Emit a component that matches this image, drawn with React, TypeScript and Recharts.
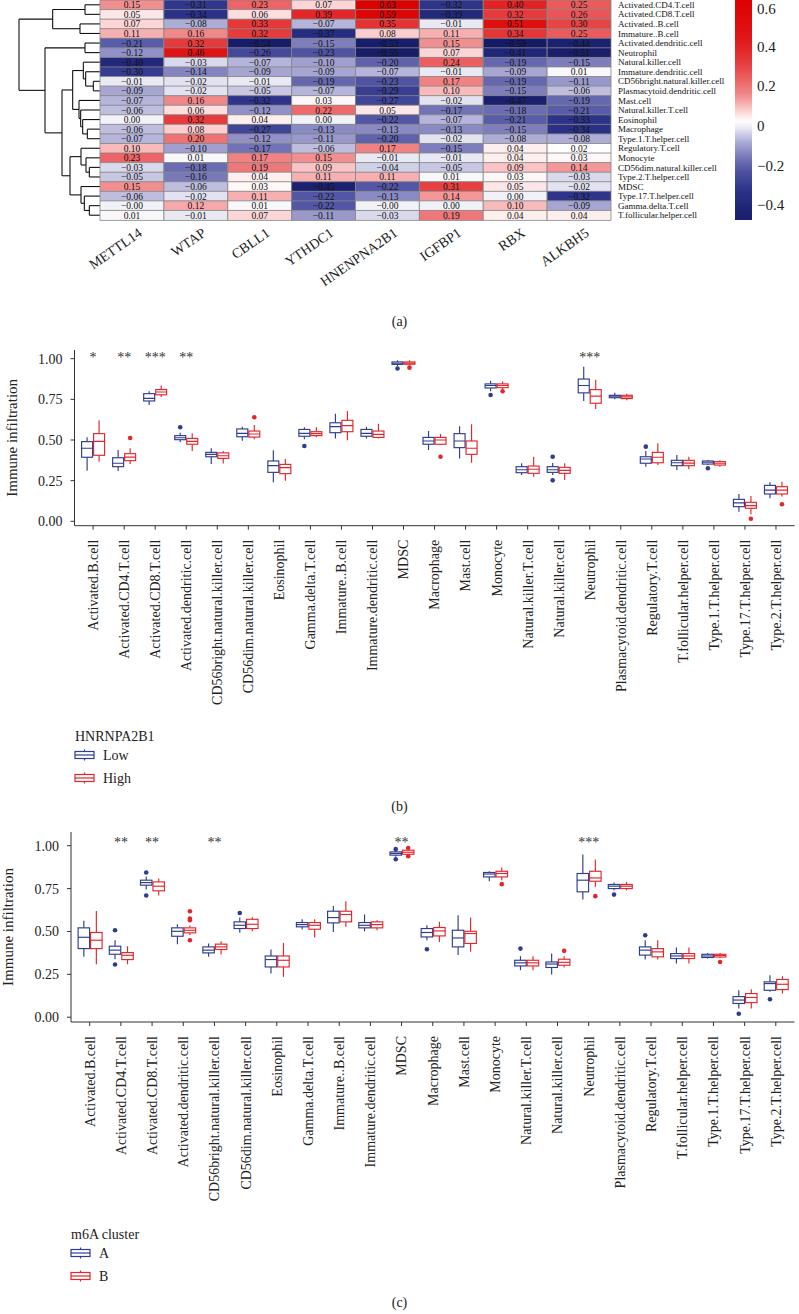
import React from 'react';
import {
  BarChart, Bar, Cell, XAxis, YAxis, LabelList, ScatterChart, Scatter,
  ReferenceLine, ReferenceArea, ComposedChart,
} from 'recharts';

const FONT = '"Liberation Serif", "DejaVu Serif", serif';
const BLUE = '#2e3d8f';
const RED = '#e3262b';

// ---------- panel (a): correlation heatmap ----------
const GENES = ['METTL14', 'WTAP', 'CBLL1', 'YTHDC1', 'HNENPNA2B1', 'IGFBP1', 'RBX', 'ALKBH5'];

const HEAT_ROWS = [
  'Activated.CD4.T.cell', 'Activated.CD8.T.cell', 'Activated..B.cell', 'Immature..B.cell',
  'Activated.dendritic.cell', 'Neutrophil', 'Natural.killer.cell', 'Immature.dendritic.cell',
  'CD56bright.natural.killer.cell', 'Plasmacytoid.dendritic.cell', 'Mast.cell', 'Natural.killer.T.cell',
  'Eosinophil', 'Macrophage', 'Type.1.T.helper.cell', 'Regulatory.T.cell', 'Monocyte',
  'CD56dim.natural.killer.cell', 'Type.2.T.helper.cell', 'MDSC', 'Type.17.T.helper.cell',
  'Gamma.delta.T.cell', 'T.follicular.helper.cell',
];

const HEAT_VALUES = [
  [0.15, -0.31, 0.23, 0.07, 0.63, -0.32, 0.40, 0.25],
  [0.05, -0.34, 0.06, 0.39, 0.59, -0.39, 0.32, 0.26],
  [0.07, -0.08, 0.33, -0.07, 0.35, -0.01, 0.51, 0.30],
  [0.11, 0.16, 0.32, -0.37, 0.08, 0.11, 0.34, 0.25],
  [-0.21, 0.32, -0.54, -0.15, -0.53, 0.15, -0.59, -0.44],
  [-0.12, 0.46, -0.26, -0.23, -0.55, 0.07, -0.41, -0.51],
  [-0.40, -0.03, -0.07, -0.10, -0.20, 0.24, -0.19, -0.15],
  [-0.30, -0.14, -0.09, -0.09, -0.07, -0.01, -0.09, 0.01],
  [-0.01, -0.02, -0.01, -0.19, -0.23, 0.17, -0.19, -0.11],
  [-0.09, -0.02, -0.05, -0.07, -0.29, 0.10, -0.15, -0.06],
  [-0.07, 0.16, -0.32, 0.03, -0.27, -0.02, -0.47, -0.19],
  [-0.06, 0.06, -0.12, 0.22, 0.05, -0.17, -0.18, -0.21],
  [0.00, 0.32, 0.04, 0.00, -0.22, -0.07, -0.21, -0.33],
  [-0.06, 0.08, -0.27, -0.13, -0.13, -0.13, -0.15, -0.34],
  [-0.07, 0.20, -0.12, -0.11, -0.20, -0.02, -0.08, -0.08],
  [0.10, -0.10, -0.17, -0.06, 0.17, -0.15, 0.04, 0.02],
  [0.23, 0.01, 0.17, 0.15, -0.01, -0.01, 0.04, 0.03],
  [-0.03, -0.18, 0.19, 0.09, -0.04, -0.05, 0.09, 0.14],
  [-0.05, -0.16, 0.04, 0.11, 0.11, 0.01, 0.03, -0.03],
  [0.15, -0.06, 0.03, -0.45, -0.22, 0.31, 0.05, -0.02],
  [-0.06, -0.02, 0.11, -0.22, -0.13, 0.14, 0.00, -0.32],
  [-0, 0.12, 0.01, -0.22, -0, 0.00, 0.10, -0.09],
  [0.01, -0.01, 0.07, -0.11, -0.03, 0.19, 0.04, 0.04],
];

// hclust-style merges: negative = leaf (1-based row), positive = earlier merge; third = height
const DENDRO_MERGES = [
  [-1, -2, 45], [-3, -4, 60], [1, 2, 142], [-5, -6, 45], [-9, -10, 20], [-8, 5, 43],
  [-7, 6, 50], [-14, -15, 38], [-13, 8, 52], [-12, 9, 58], [-11, 10, 63], [7, 11, 82],
  [-18, -19, 32], [-17, 13, 42], [-16, 14, 57], [-22, -23, 32], [-21, 16, 47], [-20, 17, 57],
  [15, 18, 90], [12, 19, 114], [4, 20, 165], [3, 21, 243],
];
const DENDRO_TOP = 243;

const CBAR_TICKS = [-0.4, -0.2, 0, 0.2, 0.4, 0.6];
const CBAR_MIN = -0.476;
const CBAR_MAX = 0.635;

// ---------- panels (b) and (c): box plots ----------
const CELL_TYPES = [
  'Activated.B.cell', 'Activated.CD4.T.cell', 'Activated.CD8.T.cell', 'Activated.dendritic.cell',
  'CD56bright.natural.killer.cell', 'CD56dim.natural.killer.cell', 'Eosinophil', 'Gamma.delta.T.cell',
  'Immature..B.cell', 'Immature.dendritic.cell', 'MDSC', 'Macrophage', 'Mast.cell', 'Monocyte',
  'Natural.killer.T.cell', 'Natural.killer.cell', 'Neutrophil', 'Plasmacytoid.dendritic.cell',
  'Regulatory.T.cell', 'T.follicular.helper.cell', 'Type.1.T.helper.cell', 'Type.17.T.helper.cell',
  'Type.2.T.helper.cell',
];

// [min, q1, median, q3, max]
const B_LOW = [
  [0.311, 0.394, 0.449, 0.49, 0.517], [0.309, 0.336, 0.357, 0.391, 0.438], [0.715, 0.74, 0.756, 0.785, 0.80],
  [0.486, 0.502, 0.514, 0.527, 0.545], [0.352, 0.397, 0.412, 0.424, 0.449], [0.496, 0.52, 0.541, 0.568, 0.582],
  [0.240, 0.301, 0.342, 0.371, 0.437], [0.504, 0.523, 0.541, 0.565, 0.578], [0.51, 0.545, 0.582, 0.606, 0.662],
  [0.51, 0.523, 0.541, 0.565, 0.582], [0.955, 0.965, 0.972, 0.98, 0.99], [0.438, 0.474, 0.494, 0.516, 0.555],
  [0.387, 0.453, 0.494, 0.539, 0.584], [0.80, 0.82, 0.835, 0.845, 0.865], [0.285, 0.299, 0.317, 0.336, 0.357],
  [0.285, 0.301, 0.317, 0.336, 0.358], [0.74, 0.79, 0.835, 0.875, 0.95], [0.75, 0.76, 0.77, 0.775, 0.79],
  [0.336, 0.357, 0.383, 0.397, 0.432], [0.316, 0.342, 0.36, 0.375, 0.408], [0.346, 0.352, 0.363, 0.371, 0.377],
  [0.059, 0.09, 0.113, 0.135, 0.168], [0.142, 0.168, 0.192, 0.221, 0.24],
];
const B_LOW_OUT = [
  [], [], [], [0.578], [], [], [], [0.463], [], [], [0.94], [], [], [0.777], [], [0.397, 0.252],
  [], [], [0.459], [], [0.326], [], [],
];
const B_HIGH = [
  [0.367, 0.406, 0.492, 0.539, 0.621], [0.352, 0.373, 0.395, 0.416, 0.449], [0.765, 0.778, 0.795, 0.81, 0.835],
  [0.432, 0.474, 0.492, 0.51, 0.541], [0.356, 0.387, 0.403, 0.421, 0.432], [0.504, 0.518, 0.537, 0.555, 0.592],
  [0.25, 0.293, 0.33, 0.35, 0.383], [0.517, 0.527, 0.539, 0.551, 0.578], [0.498, 0.551, 0.588, 0.621, 0.678],
  [0.51, 0.516, 0.535, 0.555, 0.60], [0.958, 0.966, 0.973, 0.98, 0.99], [0.469, 0.474, 0.5, 0.516, 0.537],
  [0.36, 0.412, 0.449, 0.494, 0.597], [0.81, 0.822, 0.835, 0.845, 0.86], [0.274, 0.295, 0.32, 0.34, 0.397],
  [0.254, 0.295, 0.313, 0.332, 0.357], [0.69, 0.726, 0.77, 0.81, 0.87], [0.745, 0.755, 0.765, 0.775, 0.785],
  [0.346, 0.36, 0.394, 0.424, 0.48], [0.32, 0.342, 0.358, 0.375, 0.397], [0.336, 0.346, 0.357, 0.367, 0.375],
  [0.043, 0.08, 0.096, 0.117, 0.156], [0.152, 0.168, 0.192, 0.213, 0.244],
];
const B_HIGH_OUT = [
  [], [0.512], [], [], [], [0.64], [], [], [], [], [0.945], [0.397], [], [0.80], [], [],
  [], [], [], [], [], [0.016], [0.105],
];
const B_SIG = ['*', '**', '***', '**', '', '', '', '', '', '', '', '', '', '', '', '', '***', '', '', '', '', '', ''];

const C_A = [
  [0.352, 0.40, 0.466, 0.521, 0.562], [0.338, 0.367, 0.391, 0.414, 0.449], [0.745, 0.77, 0.785, 0.799, 0.82],
  [0.426, 0.472, 0.501, 0.521, 0.542], [0.352, 0.375, 0.391, 0.41, 0.43], [0.492, 0.517, 0.536, 0.556, 0.581],
  [0.255, 0.293, 0.336, 0.357, 0.395], [0.511, 0.527, 0.54, 0.552, 0.571], [0.497, 0.55, 0.581, 0.618, 0.649],
  [0.501, 0.521, 0.536, 0.552, 0.599], [0.935, 0.945, 0.955, 0.964, 0.972], [0.449, 0.468, 0.494, 0.517, 0.536],
  [0.362, 0.41, 0.462, 0.507, 0.595], [0.793, 0.818, 0.835, 0.844, 0.851], [0.274, 0.299, 0.317, 0.332, 0.356],
  [0.249, 0.29, 0.31, 0.322, 0.371], [0.686, 0.731, 0.799, 0.838, 0.949], [0.74, 0.75, 0.764, 0.774, 0.785],
  [0.336, 0.362, 0.391, 0.41, 0.449], [0.313, 0.342, 0.357, 0.371, 0.406], [0.342, 0.348, 0.357, 0.367, 0.375],
  [0.05, 0.08, 0.10, 0.12, 0.157], [0.148, 0.157, 0.196, 0.206, 0.245],
];
const C_A_OUT = [
  [], [0.507, 0.307], [0.844, 0.71], [], [], [0.608], [], [], [], [], [0.98, 0.921], [0.396], [], [],
  [0.40], [], [], [0.715], [0.478], [], [], [0.02], [0.105],
];
const C_B = [
  [0.309, 0.40, 0.449, 0.494, 0.62], [0.309, 0.336, 0.361, 0.377, 0.414], [0.71, 0.737, 0.764, 0.789, 0.809],
  [0.48, 0.492, 0.507, 0.521, 0.535], [0.366, 0.395, 0.41, 0.426, 0.443], [0.501, 0.517, 0.542, 0.571, 0.583],
  [0.235, 0.293, 0.332, 0.357, 0.433], [0.465, 0.513, 0.536, 0.552, 0.571], [0.527, 0.556, 0.599, 0.618, 0.676],
  [0.507, 0.521, 0.54, 0.556, 0.566], [0.945, 0.95, 0.962, 0.974, 0.98], [0.439, 0.474, 0.503, 0.523, 0.556],
  [0.381, 0.43, 0.488, 0.501, 0.581], [0.799, 0.818, 0.838, 0.851, 0.873], [0.274, 0.299, 0.317, 0.332, 0.356],
  [0.29, 0.303, 0.32, 0.338, 0.356], [0.76, 0.793, 0.812, 0.851, 0.92], [0.74, 0.75, 0.764, 0.774, 0.789],
  [0.336, 0.352, 0.381, 0.40, 0.449], [0.313, 0.342, 0.357, 0.371, 0.406], [0.345, 0.351, 0.36, 0.367, 0.375],
  [0.05, 0.085, 0.115, 0.138, 0.163], [0.138, 0.161, 0.192, 0.22, 0.239],
];
const C_B_OUT = [
  [], [], [], [0.618, 0.575, 0.566, 0.449], [], [], [], [], [], [], [0.987, 0.939], [], [], [0.776],
  [], [0.387], [0.706], [], [], [], [0.322], [], [],
];
const C_SIG = ['', '**', '**', '', '**', '', '', '', '', '', '**', '', '', '', '', '', '***', '', '', '', '', '', ''];

const Y_TICKS = [0, 0.25, 0.5, 0.75, 1];

// ---------- helpers ----------
const HEAT_STOPS: [number, string][] = [
  [-0.6, '#151b63'], [-0.45, '#1b2170'], [-0.32, '#2d348a'], [-0.22, '#5356a4'], [-0.13, '#8a8ac4'],
  [-0.07, '#b5b4da'], [-0.02, '#e2e2f0'], [0.02, '#ffffff'], [0.07, '#fcd6d7'], [0.11, '#f7b0b2'],
  [0.16, '#f08788'], [0.23, '#ec6465'], [0.32, '#e63b3c'], [0.45, '#e01415'], [0.65, '#dc0000'],
];

const hexToRgb = (h: string) => [1, 3, 5].map((k) => parseInt(h.slice(k, k + 2), 16));
const mixHex = (a: string, b: string, t: number) => {
  const A = hexToRgb(a);
  const B = hexToRgb(b);
  return '#' + A.map((v, k) => Math.round(v + (B[k] - v) * t).toString(16).padStart(2, '0')).join('');
};
const heatColor = (v: number) => {
  const s = HEAT_STOPS;
  if (v <= s[0][0]) return s[0][1];
  for (let k = 1; k < s.length; k++) {
    if (v <= s[k][0]) return mixHex(s[k - 1][1], s[k][1], (v - s[k - 1][0]) / (s[k][0] - s[k - 1][0]));
  }
  return s[s.length - 1][1];
};
const fmtCorr = (v: number) => (v < 0 || Object.is(v, -0) ? '\u2212' : '') + Math.abs(v).toFixed(2);

function dendroSegments() {
  const pos: number[] = [];
  const hts: number[] = [];
  const segs: { x: number; y: number }[][] = [];
  const node = (id: number) => (id < 0 ? { y: -id - 1, h: 0 } : { y: pos[id - 1], h: hts[id - 1] });
  DENDRO_MERGES.forEach(([a, b, h]) => {
    const A = node(a);
    const B = node(b);
    segs.push([{ x: A.h, y: A.y }, { x: h, y: A.y }]);
    segs.push([{ x: B.h, y: B.y }, { x: h, y: B.y }]);
    segs.push([{ x: h, y: A.y }, { x: h, y: B.y }]);
    pos.push((A.y + B.y) / 2);
    hts.push(h);
  });
  return segs;
}

const heatData = HEAT_ROWS.map((name, i) => ({ name, vals: HEAT_VALUES[i] }));
const leafData = HEAT_ROWS.map((_, i) => ({ h: 0, row: i }));

function GeneTick(props: any) {
  const { x, y, payload } = props;
  const idx = Math.floor(payload.value);
  return (
    <text transform={`translate(${x + 11},${y + 15}) rotate(-35)`} textAnchor="end"
      fontSize={14} fontFamily={FONT} fill="#222">{GENES[idx]}</text>
  );
}

function RowTick(props: any) {
  const { x, y, payload } = props;
  return (
    <text x={x + 7} y={y} dy="0.35em" textAnchor="start" fontSize={9} fontFamily={FONT} fill="#111">
      {payload.value}
    </text>
  );
}

function Heatmap() {
  const segs = dendroSegments();
  const cbarStops = Array.from({ length: 41 }, (_, k) => {
    const off = k / 40;
    return { off, c: heatColor(CBAR_MAX - off * (CBAR_MAX - CBAR_MIN)) };
  });
  return (
    <>
      <div style={{ position: 'absolute', left: 0, top: 0 }}>
        <ScatterChart width={100} height={300} margin={{ top: 0, right: 0, bottom: 80, left: 19 }}>
          <XAxis type="number" dataKey="h" domain={[0, DENDRO_TOP]} reversed hide />
          <YAxis type="number" dataKey="row" domain={[-0.5, HEAT_ROWS.length - 0.5]} reversed hide />
          <Scatter data={leafData} shape={() => <g />} isAnimationActive={false} />
          {segs.map((s, k) => (
            <ReferenceLine key={k} segment={s} stroke="#111" strokeWidth={1.1} ifOverflow="visible" />
          ))}
        </ScatterChart>
      </div>
      <div style={{ position: 'absolute', left: 0, top: 0 }}>
        <BarChart width={799} height={300} data={heatData} layout="vertical" barCategoryGap={0}
          margin={{ top: 0, right: 0, bottom: 0, left: 100 }}>
          <XAxis type="number" domain={[0, GENES.length]} ticks={GENES.map((_, j) => j + 0.5)} interval={0}
            height={80} axisLine={false} tickLine={false} tickSize={0} tickMargin={0} tick={<GeneTick />} />
          <YAxis type="category" dataKey="name" orientation="right" width={188} interval={0}
            axisLine={false} tickLine={false} tickSize={0} tickMargin={0} tick={<RowTick />} />
          {GENES.map((g, j) => (
            <Bar key={g} dataKey={() => 1} stackId="heat" isAnimationActive={false}>
              {heatData.map((d, i) => (
                <Cell key={i} fill={heatColor(d.vals[j])} stroke="#858585" strokeWidth={0.8} />
              ))}
              <LabelList dataKey={(d: any) => fmtCorr(d.vals[j])}
                content={(p: any) => (
                  <text x={p.x + p.width / 2} y={p.y + p.height / 2} dy="0.35em" textAnchor="middle"
                    fontSize={9.5} fontFamily={FONT} fill="#111">{p.value}</text>
                )} />
            </Bar>
          ))}
        </BarChart>
      </div>
      <div style={{ position: 'absolute', left: 735, top: 0 }}>
        <ComposedChart width={64} height={300} data={[{ x: 0 }, { x: 1 }]}
          margin={{ top: 0, right: 0, bottom: 80, left: 0 }}>
          <defs>
            <linearGradient id="cbar" x1="0" y1="0" x2="0" y2="1">
              {cbarStops.map((s) => <stop key={s.off} offset={s.off} stopColor={s.c} />)}
            </linearGradient>
          </defs>
          <XAxis dataKey="x" type="number" domain={[0, 1]} hide />
          <YAxis type="number" orientation="right" domain={[CBAR_MIN, CBAR_MAX]} ticks={CBAR_TICKS}
            allowDataOverflow width={47} axisLine={false} tickLine={false} tickSize={0} tickMargin={5}
            tick={{ fontSize: 15, fill: '#222', fontFamily: FONT }}
            tickFormatter={(v: number) => (v === 0 ? '0' : (v < 0 ? '\u2212' : '') + Math.abs(v).toFixed(1))} />
          <ReferenceArea x1={0} x2={1} y1={CBAR_MIN} y2={CBAR_MAX} fill="url(#cbar)" fillOpacity={1}
            stroke="none" ifOverflow="visible" />
        </ComposedChart>
      </div>
    </>
  );
}

// ---------- box plot ----------
const extent = (s: number[], out: number[]) => [Math.min(s[0], ...out), Math.max(s[4], ...out)];

function BoxGlyph(props: any) {
  const { x, y, width, height, stats, out, color } = props;
  if (!stats || !Number.isFinite(y)) return <g />;
  const [lo, hi] = extent(stats, out);
  const py = (v: number) => (hi === lo ? y : y + ((hi - v) / (hi - lo)) * height);
  const cx = x + width / 2;
  const sw = 1.15;
  return (
    <g>
      <line x1={cx} x2={cx} y1={py(stats[4])} y2={py(stats[3])} stroke={color} strokeWidth={sw} />
      <line x1={cx} x2={cx} y1={py(stats[1])} y2={py(stats[0])} stroke={color} strokeWidth={sw} />
      <rect x={x} y={py(stats[3])} width={width} height={Math.max(0.5, py(stats[1]) - py(stats[3]))}
        fill="#fff" stroke={color} strokeWidth={sw} />
      <line x1={x} x2={x + width} y1={py(stats[2])} y2={py(stats[2])} stroke={color} strokeWidth={sw} />
      {out.map((o: number, k: number) => (
        <circle key={k} cx={cx} cy={py(o)} r={2.3} fill={color} />
      ))}
    </g>
  );
}

function CellTick(props: any) {
  const { x, y, payload } = props;
  return (
    <text transform={`translate(${x},${y + 8}) rotate(-90)`} dy="0.35em" textAnchor="end"
      fontSize={14} fontFamily={FONT} fill="#222">{payload.value}</text>
  );
}

function SigMark(props: any) {
  const { cx, cy, payload } = props;
  if (!payload || !payload.sig || !Number.isFinite(cy)) return <g />;
  return (
    <text x={cx} y={cy + 7} textAnchor="middle" fontSize={14} fontFamily={FONT}
      style={{ fill: '#333' }} stroke="none">{payload.sig}</text>
  );
}

interface BoxPanelProps {
  top: number;
  marginLeft: number;
  marginRight: number;
  axisHeight: number;
  domain: [number, number];
  sigY: number;
  barSize: number;
  titleX: number;
  low: number[][];
  lowOut: number[][];
  high: number[][];
  highOut: number[][];
  sig: string[];
}

function BoxPanel(p: BoxPanelProps) {
  const data = CELL_TYPES.map((name, i) => ({
    name, low: p.low[i], lowOut: p.lowOut[i], high: p.high[i], highOut: p.highOut[i], sig: p.sig[i],
  }));
  return (
    <div style={{ position: 'absolute', left: 0, top: p.top }}>
      <ComposedChart width={799} height={400} data={data} barGap={1}
        margin={{ top: 20, right: p.marginRight, bottom: 0, left: p.marginLeft }}>
        <XAxis dataKey="name" type="category" interval={0} height={p.axisHeight} padding={{ left: 3.1, right: 3.1 }}
          stroke="#333" tickSize={4} tickMargin={2} tick={<CellTick />} />
        <YAxis type="number" domain={p.domain} ticks={Y_TICKS} allowDataOverflow width={60}
          stroke="#333" tickSize={4} tickMargin={8}
          tick={{ fontSize: 14, fill: '#222', fontFamily: FONT }}
          tickFormatter={(v: number) => v.toFixed(2)}
          label={{
            content: (lp: any) => {
              const vb = lp.viewBox || {};
              const cy = (vb.y || 0) + (vb.height || 0) / 2;
              return (
                <text transform={`translate(${p.titleX},${cy}) rotate(-90)`} dy="0.35em" textAnchor="middle"
                  fontSize={15} fontFamily={FONT} fill="#222">Immune infiltration</text>
              );
            },
          }} />
        <Bar dataKey={(d: any) => extent(d.low, d.lowOut)} barSize={p.barSize} isAnimationActive={false}
          shape={(bp: any) => <BoxGlyph {...bp} stats={bp.payload.low} out={bp.payload.lowOut} color={BLUE} />} />
        <Bar dataKey={(d: any) => extent(d.high, d.highOut)} barSize={p.barSize} isAnimationActive={false}
          shape={(bp: any) => <BoxGlyph {...bp} stats={bp.payload.high} out={bp.payload.highOut} color={RED} />} />
        <Scatter dataKey={(d: any) => (d.sig ? p.sigY : null)} fill="#333" isAnimationActive={false}
          shape={(sp: any) => <SigMark {...sp} />} />
      </ComposedChart>
    </div>
  );
}

function LegendKey({ x, y, color }: { x: number; y: number; color: string }) {
  return (
    <g stroke={color} strokeWidth={1.2} fill="none">
      <rect x={x} y={y - 3.5} width={19} height={7} fill="#fff" />
      <line x1={x} x2={x + 19} y1={y} y2={y} />
      <line x1={x + 9.5} x2={x + 9.5} y1={y - 5.5} y2={y - 3.5} />
      <line x1={x + 9.5} x2={x + 9.5} y1={y + 3.5} y2={y + 5.5} />
    </g>
  );
}

function BoxLegend({ x, y, title, labels }: { x: number; y: number; title: string; labels: string[] }) {
  return (
    <svg style={{ position: 'absolute', left: 0, top: 0, overflow: 'visible' }} width={1} height={1}>
      <text x={x} y={y} dy="0.35em" fontSize={14} fontFamily={FONT} fill="#222">{title}</text>
      <LegendKey x={x} y={y + 19} color={BLUE} />
      <text x={x + 28} y={y + 19} dy="0.35em" fontSize={14} fontFamily={FONT} fill="#222">{labels[0]}</text>
      <LegendKey x={x} y={y + 42} color={RED} />
      <text x={x + 28} y={y + 42} dy="0.35em" fontSize={14} fontFamily={FONT} fill="#222">{labels[1]}</text>
    </svg>
  );
}

function PanelTag({ y, text }: { y: number; text: string }) {
  return (
    <div style={{
      position: 'absolute', left: 0, width: 799, top: y - 9, textAlign: 'center',
      fontFamily: FONT, fontSize: 14, color: '#222', lineHeight: '18px',
    }}>{text}</div>
  );
}

export default function App() {
  return (
    <div style={{ position: 'relative', width: 799, height: 1314, background: '#fff', overflow: 'hidden' }}>
      <style>{'body{margin:0;}'}</style>
      <Heatmap />
      <PanelTag y={322} text="(a)" />
      <BoxPanel top={330} marginLeft={14.5} marginRight={4.4} axisHeight={204.3} domain={[-0.027, 1.0535]}
        sigY={1.023} barSize={11} titleX={12} low={B_LOW} lowOut={B_LOW_OUT} high={B_HIGH}
        highOut={B_HIGH_OUT} sig={B_SIG} />
      <BoxLegend x={75} y={736} title="HNRNPA2B1" labels={['Low', 'High']} />
      <PanelTag y={807} text="(b)" />
      <BoxPanel top={812} marginLeft={11} marginRight={4.5} axisHeight={190} domain={[-0.028, 1.08]}
        sigY={1.033} barSize={11.5} titleX={8} low={C_A} lowOut={C_A_OUT} high={C_B}
        highOut={C_B_OUT} sig={C_SIG} />
      <BoxLegend x={71} y={1234} title="m6A cluster" labels={['A', 'B']} />
      <PanelTag y={1303} text="(c)" />
    </div>
  );
}
